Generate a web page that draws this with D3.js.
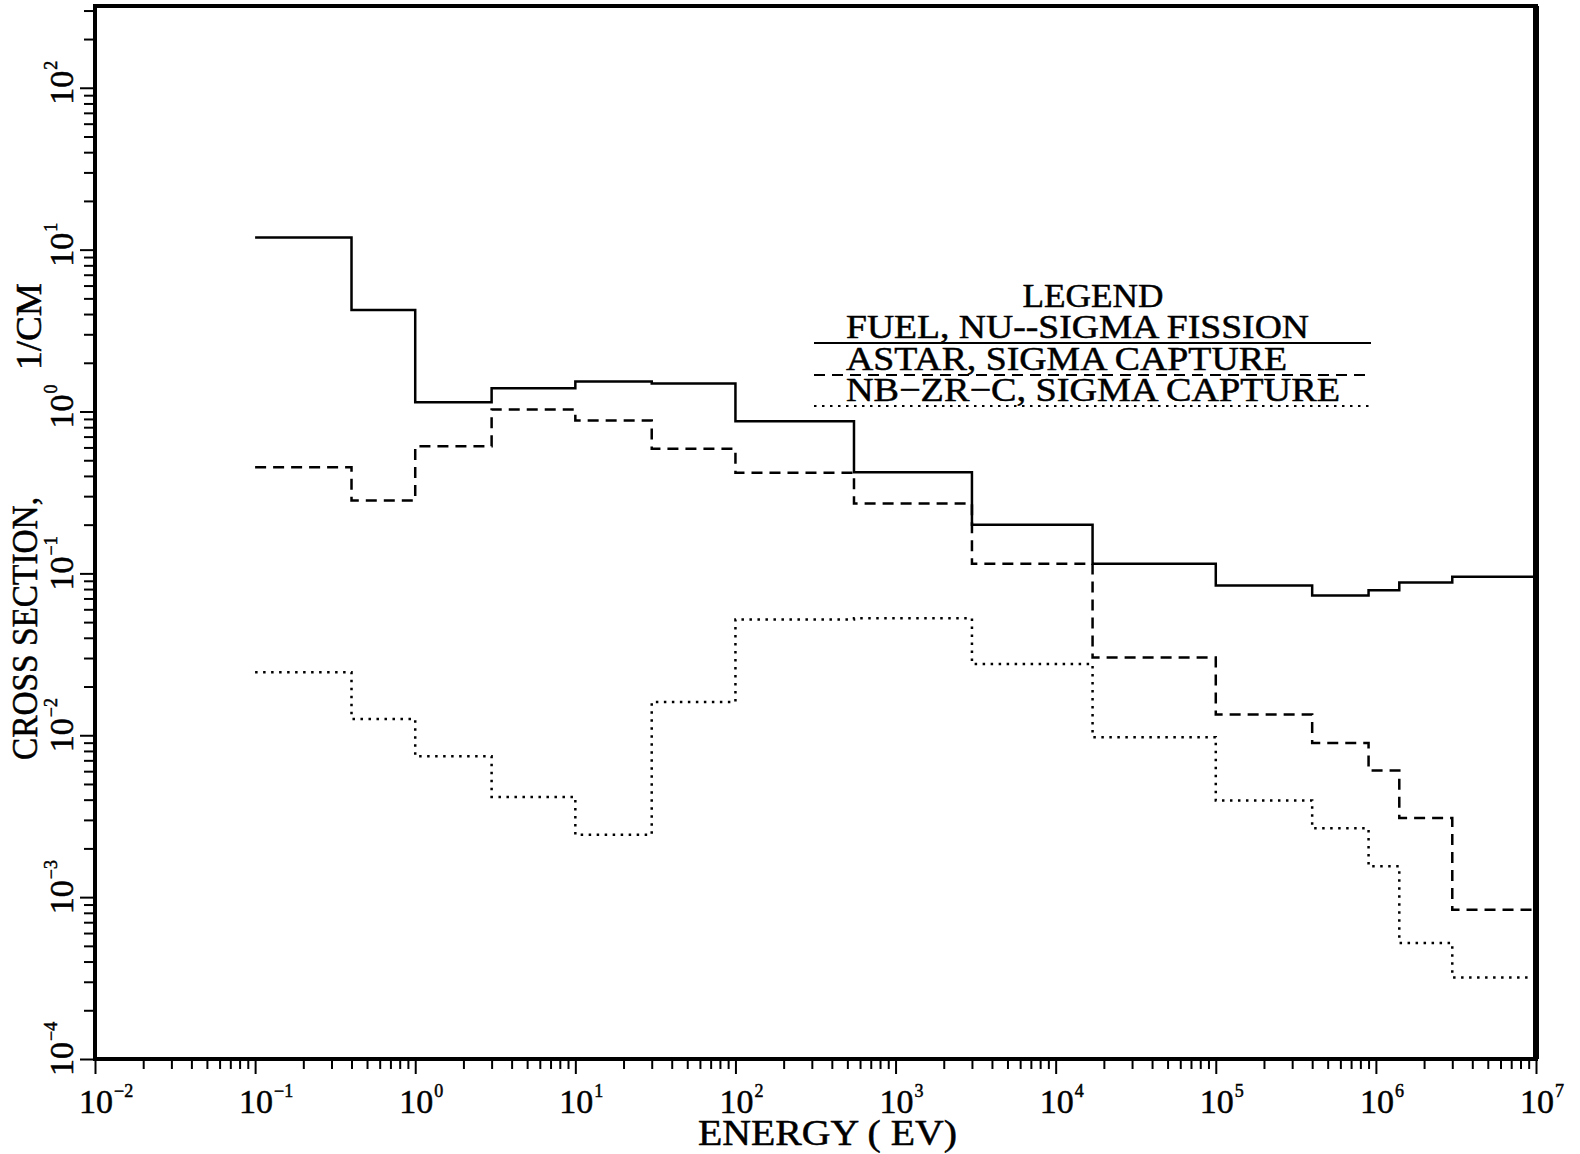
<!DOCTYPE html>
<html>
<head>
<meta charset="utf-8">
<script src="https://cdn.jsdelivr.net/npm/d3@7"></script>
<style>
  body { margin: 0; background: #fff; }
  svg text { font-family: "Liberation Serif", "DejaVu Serif", serif; fill: #000; stroke: #000; stroke-width: 0.5; }
</style>
</head>
<body>
<div id="chart"></div>
<script>
// Group boundaries (eV) shared by all three curves
var energyEdges = [0.1, 0.4, 1, 3, 10, 30, 100, 550, 3000, 17000, 1e5, 4e5, 9e5, 1.4e6, 3e6, 1e7];

// One value per energy group, 1/CM
var fuelNuSigmaFission = [11.9, 4.24, 1.14, 1.39, 1.53, 1.49, 0.87, 0.422, 0.200, 0.1146, 0.0842, 0.073, 0.0787, 0.0879, 0.0953];
var astarSigmaCapture  = [0.453, 0.282, 0.611, 1.03, 0.88, 0.589, 0.419, 0.270, 0.1146, 0.0302, 0.01343, 0.00897, 0.00605, 0.00308, 0.000837];
var nbZrCSigmaCapture  = [0.0245, 0.01262, 0.00742, 0.00416, 0.00243, 0.01607, 0.0519, 0.0528, 0.0276, 0.00973, 0.00395, 0.00266, 0.00155, 0.000521, 0.000319];

// Tick labels are 10^n
var xTickExponents = [-2, -1, 0, 1, 2, 3, 4, 5, 6, 7];
var yTickExponents = [-4, -3, -2, -1, 0, 1, 2];

var legendLabels = ['FUEL, NU--SIGMA FISSION', 'ASTAR, SIGMA CAPTURE', 'NB\u2212ZR\u2212C, SIGMA CAPTURE'];

var W = 1580, H = 1154;
// plot frame (note: "top" is reserved on window, so use other names)
var plotL = 95, plotR = 1536, plotT = 6, plotB = 1059;

var svg = d3.select('#chart').append('svg')
            .attr('width', W)
            .attr('height', H);

var x = d3.scaleLog().domain([1e-2, 1e7]).range([plotL, plotR]);
var y = d3.scaleLog().domain([1e-4, 320]).range([plotB, plotT]);

// major and minor tick values
function minorTicks(exps, maxVal) {
  var out = [];
  exps.forEach(function(e) {
    for (var k = 2; k <= 9; k++) {
      var v = k * Math.pow(10, e);
      if (v <= maxVal) out.push(v);
    }
  });
  return out;
}
var xMajor = xTickExponents.map(function(e) { return Math.pow(10, e); });
var yMajor = yTickExponents.map(function(e) { return Math.pow(10, e); });
var xMinor = minorTicks(xTickExponents.slice(0, -1), 1e7);
var yMinor = minorTicks(yTickExponents, 320);

// x-axis ticks (pointing down)
var xMinorAxis = d3.axisBottom(x).tickValues(xMinor).tickSize(10).tickFormat('');
var xMajorAxis = d3.axisBottom(x).tickValues(xMajor).tickSize(15).tickFormat('');
[xMinorAxis, xMajorAxis].forEach(function(ax) {
  var g = svg.append('g')
     .attr('transform', 'translate(0,' + plotB + ')')
     .call(ax);
  g.select('.domain').remove();
  g.selectAll('line').attr('stroke', '#000').attr('stroke-width', 2);
});

// y-axis ticks (pointing left)
var yMinorAxis = d3.axisLeft(y).tickValues(yMinor).tickSize(11).tickFormat('');
var yMajorAxis = d3.axisLeft(y).tickValues(yMajor).tickSize(15).tickFormat('');
[yMinorAxis, yMajorAxis].forEach(function(ax) {
  var g = svg.append('g')
     .attr('transform', 'translate(' + plotL + ',0)')
     .call(ax);
  g.select('.domain').remove();
  g.selectAll('line').attr('stroke', '#000').attr('stroke-width', 2);
});

// frame
svg.append('rect')
   .attr('x', plotL).attr('y', plotT)
   .attr('width', plotR - plotL).attr('height', plotB - plotT)
   .attr('fill', 'none')
   .attr('stroke', '#000')
   .attr('stroke-width', 4);
svg.append('line')
   .attr('x1', plotR).attr('x2', plotR)
   .attr('y1', plotT).attr('y2', plotB)
   .attr('stroke', '#000').attr('stroke-width', 6);

// 10^n labels
function expText(s) { return s < 0 ? '\u2212' + (-s) : String(s); }

xTickExponents.forEach(function(e) {
  var g = svg.append('g').attr('transform', 'translate(' + (x(Math.pow(10, e)) + 1) + ',1113)');
  g.append('text').attr('text-anchor', 'middle').attr('font-size', 34).text('10');
  g.append('text').attr('x', 18).attr('y', -16).attr('font-size', 18).text(expText(e));
});

yTickExponents.forEach(function(e) {
  var g = svg.append('g').attr('transform', 'translate(73,' + y(Math.pow(10, e)) + ') rotate(-90)');
  g.append('text').attr('text-anchor', 'middle').attr('font-size', 34).text('10');
  g.append('text').attr('x', 18).attr('y', -16).attr('font-size', 18).text(expText(e));
});

// axis titles
svg.append('text')
   .attr('x', 698).attr('y', 1145)
   .attr('font-size', 35)
   .attr('textLength', 259).attr('lengthAdjust', 'spacingAndGlyphs')
   .text('ENERGY (  EV)');

svg.append('text')
   .attr('transform', 'translate(37,760) rotate(-90)')
   .attr('font-size', 35)
   .attr('textLength', 263).attr('lengthAdjust', 'spacingAndGlyphs')
   .text('CROSS SECTION,');
svg.append('text')
   .attr('transform', 'translate(41,370) rotate(-90)')
   .attr('font-size', 35)
   .attr('textLength', 87).attr('lengthAdjust', 'spacingAndGlyphs')
   .text('1/CM');

// step curves
var line = d3.line()
             .curve(d3.curveStepAfter)
             .x(function(d) { return x(d.e); })
             .y(function(d) { return y(d.v); });

function steps(vals) {
  return energyEdges.map(function(e, i) {
    return { e: e, v: vals[Math.min(i, vals.length - 1)] };
  });
}

var styles = [
  { vals: fuelNuSigmaFission, dash: null, width: 2.5 },
  { vals: astarSigmaCapture, dash: '11,7', width: 2.5 },
  { vals: nbZrCSigmaCapture, dash: '2.5,5.5', width: 2.5 }
];

styles.forEach(function(s) {
  svg.append('path')
     .attr('d', line(steps(s.vals)))
     .attr('fill', 'none')
     .attr('stroke', '#000')
     .attr('stroke-width', s.width)
     .attr('stroke-dasharray', s.dash);
});

// legend
svg.append('text')
   .attr('x', 1093).attr('y', 307)
   .attr('text-anchor', 'middle')
   .attr('font-size', 34)
   .attr('textLength', 141).attr('lengthAdjust', 'spacingAndGlyphs')
   .text('LEGEND');

var legendBase = [338, 370, 401];
var legendWidth = [463, 441, 494];
legendLabels.forEach(function(lab, i) {
  svg.append('text')
     .attr('x', 846).attr('y', legendBase[i])
     .attr('font-size', 34)
     .attr('textLength', legendWidth[i]).attr('lengthAdjust', 'spacingAndGlyphs')
     .text(lab);
  svg.append('line')
     .attr('x1', 814).attr('x2', 1371)
     .attr('y1', legendBase[i] + 5).attr('y2', legendBase[i] + 5)
     .attr('stroke', '#000')
     .attr('stroke-width', 2.2)
     .attr('stroke-dasharray', styles[i].dash);
});
</script>
</body>
</html>
